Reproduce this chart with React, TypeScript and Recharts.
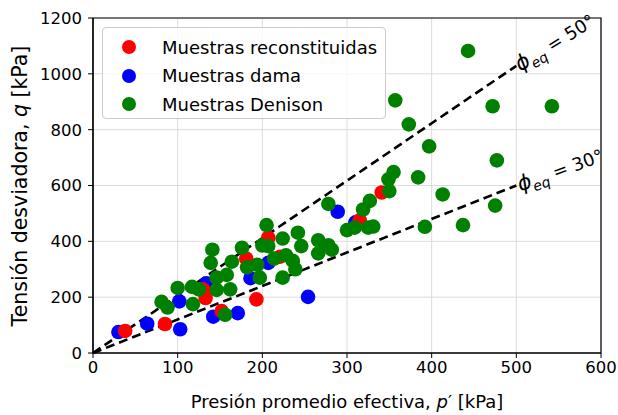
import React from 'react'
import {
  ScatterChart,
  Scatter,
  XAxis,
  YAxis,
  CartesianGrid,
  ReferenceLine,
  ReferenceDot,
  ReferenceArea,
  Legend,
  Label,
} from 'recharts'

// p' [kPa], q [kPa]
const reconstituidas = [
  { p: 38, q: 79 }, { p: 85, q: 104 }, { p: 130, q: 228 }, { p: 133, q: 197 },
  { p: 152, q: 150 }, { p: 181, q: 338 }, { p: 193, q: 192 }, { p: 207, q: 413 },
  { p: 221, q: 345 }, { p: 315, q: 475 }, { p: 341, q: 575 },
]

const dama = [
  { p: 30, q: 75 }, { p: 64, q: 105 }, { p: 102, q: 185 }, { p: 103, q: 85 },
  { p: 134, q: 250 }, { p: 142, q: 130 }, { p: 171, q: 143 }, { p: 186, q: 268 },
  { p: 207, q: 323 }, { p: 254, q: 201 }, { p: 289, q: 506 }, { p: 310, q: 468 },
]

const denison = [
  { p: 81, q: 183 }, { p: 88, q: 163 }, { p: 100, q: 233 }, { p: 117, q: 237 },
  { p: 118, q: 175 }, { p: 125, q: 228 }, { p: 139, q: 323 }, { p: 141, q: 370 },
  { p: 146, q: 270 }, { p: 146, q: 226 }, { p: 156, q: 137 }, { p: 158, q: 280 },
  { p: 162, q: 228 }, { p: 164, q: 327 }, { p: 176, q: 377 }, { p: 182, q: 307 },
  { p: 194, q: 316 }, { p: 197, q: 270 }, { p: 200, q: 385 }, { p: 205, q: 458 },
  { p: 207, q: 383 }, { p: 214, q: 338 }, { p: 224, q: 270 }, { p: 224, q: 410 },
  { p: 228, q: 350 }, { p: 236, q: 330 }, { p: 239, q: 300 }, { p: 242, q: 431 },
  { p: 246, q: 383 }, { p: 266, q: 404 }, { p: 266, q: 357 }, { p: 278, q: 386 },
  { p: 282, q: 370 }, { p: 278, q: 534 }, { p: 300, q: 440 }, { p: 309, q: 449 },
  { p: 319, q: 514 }, { p: 327, q: 545 }, { p: 325, q: 449 }, { p: 331, q: 453 },
  { p: 350, q: 580 }, { p: 349, q: 622 }, { p: 355, q: 648 }, { p: 357, q: 905 },
  { p: 373, q: 819 }, { p: 384, q: 629 }, { p: 392, q: 452 }, { p: 397, q: 740 },
  { p: 413, q: 568 }, { p: 437, q: 458 }, { p: 443, q: 1082 }, { p: 472, q: 884 },
  { p: 475, q: 528 }, { p: 477, q: 690 }, { p: 542, q: 884 },
]

const xTicks = [0, 100, 200, 300, 400, 500, 600]
const yTicks = [0, 200, 400, 600, 800, 1000, 1200]

// friction angles of the two critical state lines, drawn up to p' = 500
const phiAngles = [50, 30]
const lineEndP = 500
const labelRotation = [-32, -20]

const series = [
  { name: 'Muestras reconstituidas', color: '#ff0000', data: reconstituidas },
  { name: 'Muestras dama', color: '#0000ff', data: dama },
  { name: 'Muestras Denison', color: '#008000', data: denison },
]

const FONT = '"DejaVu Sans", sans-serif'

const slopeM = (phi: number) => {
  const s = Math.sin((phi * Math.PI) / 180)
  return (6 * s) / (3 - s)
}

const dot = (color: string) => (props: any) =>
  <circle cx={props.cx} cy={props.cy} r={7.3} fill={color} />

const renderLegend = () => (
  <div
    style={{
      position: 'relative',
      width: 284,
      height: 92,
      boxSizing: 'border-box',
      border: '1px solid #cccccc',
      borderRadius: 4,
      background: 'rgba(255,255,255,0.8)',
      fontFamily: FONT,
      fontSize: 18,
      color: '#000',
    }}
  >
    {series.map((s, i) => (
      <div key={s.name} style={{ position: 'absolute', left: 0, top: 19 + i * 28.5 - 11, height: 22, display: 'flex', alignItems: 'center' }}>
        <svg width={16} height={16} style={{ position: 'absolute', left: 18 }}>
          <circle cx={8} cy={8} r={7} fill={s.color} />
        </svg>
        <span style={{ position: 'absolute', left: 59, whiteSpace: 'nowrap' }}>{s.name}</span>
      </div>
    ))}
  </div>
)

const phiLabel = (phi: number, rot: number) => (props: any) => {
  const vb = props.viewBox || {}
  const x = (vb.x ?? 0) + 4
  const y = (vb.y ?? 0) + 6
  return (
    <text x={x} y={y} transform={`rotate(${rot} ${x} ${y})`} fontFamily={FONT} fontSize={18} fill="#000">
      <tspan fontStyle="italic" fontSize={21}>ϕ</tspan>
      <tspan dy={5} fontSize={14} fontStyle="italic">eq</tspan>
      <tspan dy={-5}> = {phi}°</tspan>
    </text>
  )
}

export default function App() {
  return (
    <div style={{ position: 'absolute', left: 0, top: 0, width: 618, height: 415, background: '#fff' }}>
      <ScatterChart width={618} height={415} margin={{ top: 18, right: 17, bottom: 0, left: 0 }}>
        <CartesianGrid stroke="#dcdcdc" strokeWidth={1} horizontalValues={yTicks} verticalValues={xTicks} />
        <XAxis
          type="number"
          dataKey="p"
          domain={[0, 600]}
          ticks={xTicks}
          height={62}
          tickSize={5}
          tickMargin={3}
          stroke="#000"
          tick={{ fill: '#000', fontSize: 16.5, fontFamily: FONT }}
          axisLine={{ stroke: '#000', strokeWidth: 1.2 }}
          tickLine={{ stroke: '#000' }}
        >
          <Label
            content={() => (
              <text x={347} y={408} textAnchor="middle" fontFamily={FONT} fontSize={18} fill="#000">
                Presión promedio efectiva, <tspan fontStyle="italic">p</tspan>′ [kPa]
              </text>
            )}
          />
        </XAxis>
        <YAxis
          type="number"
          dataKey="q"
          domain={[0, 1200]}
          ticks={yTicks}
          width={93}
          tickSize={5}
          tickMargin={6}
          stroke="#000"
          tick={{ fill: '#000', fontSize: 16.5, fontFamily: FONT }}
          axisLine={{ stroke: '#000', strokeWidth: 1.2 }}
          tickLine={{ stroke: '#000' }}
        >
          <Label
            content={() => (
              <text x={27} y={186} transform="rotate(-90 27 186)" textAnchor="middle" fontFamily={FONT} fontSize={20.5} fill="#000">
                Tensión desviadora, <tspan fontStyle="italic">q</tspan> [kPa]
              </text>
            )}
          />
        </YAxis>
        <ReferenceArea x1={0} x2={600} y1={0} y2={1200} fill="none" stroke="#000" strokeWidth={1.2} ifOverflow="visible" />
        {phiAngles.map((phi) => (
          <ReferenceLine
            key={`l${phi}`}
            segment={[{ x: 0, y: 0 }, { x: lineEndP, y: slopeM(phi) * lineEndP }]}
            stroke="#000"
            strokeWidth={2.6}
            strokeDasharray="9 5"
            ifOverflow="visible"
          />
        ))}
        <Scatter name={series[1].name} data={dama} fill={series[1].color} shape={dot(series[1].color)} isAnimationActive={false} />
        <Scatter name={series[0].name} data={reconstituidas} fill={series[0].color} shape={dot(series[0].color)} isAnimationActive={false} />
        <Scatter name={series[2].name} data={denison} fill={series[2].color} shape={dot(series[2].color)} isAnimationActive={false} />
        {phiAngles.map((phi, i) => (
          <ReferenceDot
            key={`d${phi}`}
            x={lineEndP}
            y={slopeM(phi) * lineEndP}
            r={0}
            fill="none"
            stroke="none"
            ifOverflow="visible"
            label={phiLabel(phi, labelRotation[i])}
          />
        ))}
        <Legend
          layout="horizontal"
          verticalAlign="middle"
          align="center"
          content={renderLegend}
          wrapperStyle={{ position: 'absolute', left: 102, top: 27, width: 284, height: 92 }}
        />
      </ScatterChart>
    </div>
  )
}
